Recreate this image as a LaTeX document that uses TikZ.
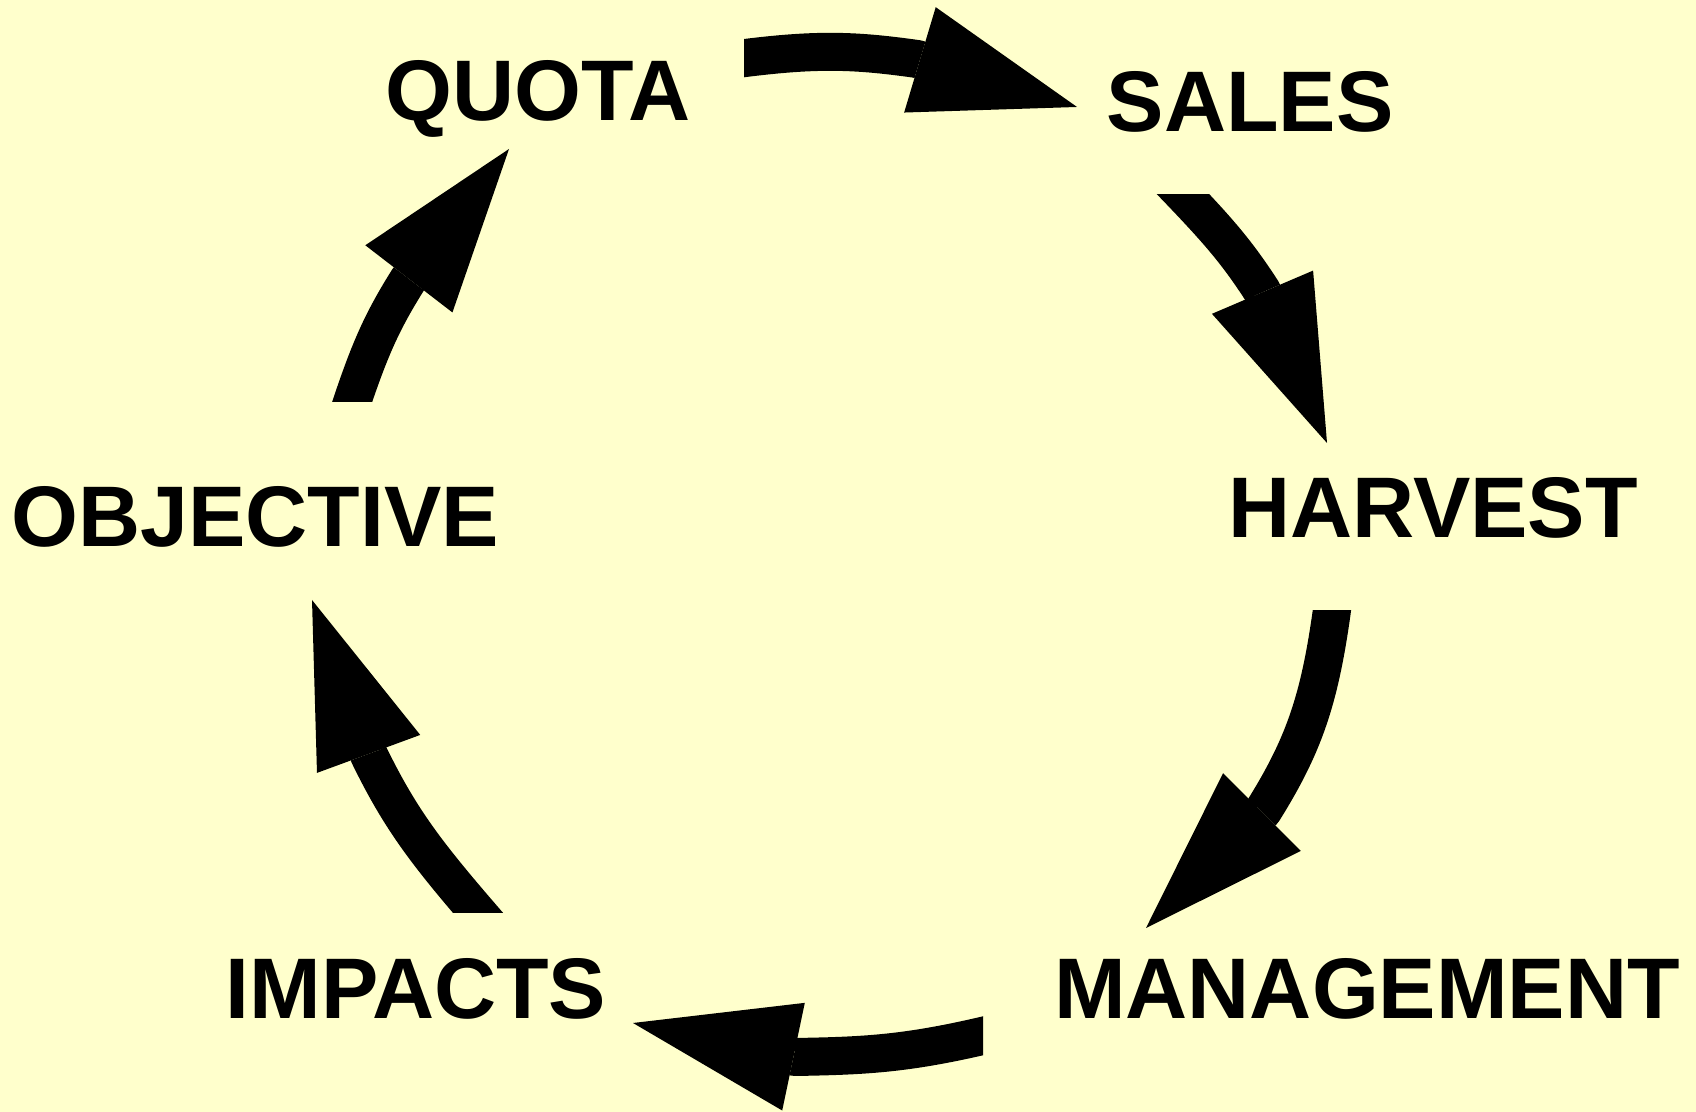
\documentclass[tikz,border=0pt]{standalone}
\usepackage{fontspec}
\setmainfont{Liberation Sans}
\usepackage{xcolor}
\usetikzlibrary{arrows.meta}
\definecolor{paper}{HTML}{FFFFCC}
\tikzset{
  word/.style={font=\bfseries\fontsize{43}{43}\selectfont, anchor=base, inner sep=0pt},
  loopflow/.style={draw=black, line width=19pt, line join=round, shorten <=-12pt,
    -{Triangle[length=82pt,width=55pt,line width=0pt]}}
}
\begin{document}
\begin{tikzpicture}[x=0.5pt,y=0.5pt]
  \fill[paper, use as bounding box] (0,0) rectangle (1696,1112);

  \node[word] (quota) at (538,991) {QUOTA};
  \node[word] (sales) at (1250,980) {SALES};
  \node[word] (harvest) at (1433,574) {HARVEST};
  \node[word] (management) at (1367,93) {MANAGEMENT};
  \node[word] (impacts) at (416,93) {IMPACTS};
  \node[word] (objective) at (255,565) {OBJECTIVE};

  \coordinate (quota-out) at (744,1054);
  \coordinate (sales-back) at (917,1053);
  \coordinate (sales-in) at (1077,1005);

  \coordinate (sales-out) at (1184,917);
  \coordinate (harvest-back) at (1262,821);
  \coordinate (harvest-in) at (1327,669);

  \coordinate (harvest-out) at (1332,501);
  \coordinate (management-back) at (1263,301);
  \coordinate (management-in) at (1146,184);

  \coordinate (management-out) at (983,76);
  \coordinate (impacts-back) at (795,55);
  \coordinate (impacts-in) at (633,89);

  \coordinate (impacts-out) at (478,199);
  \coordinate (objective-back) at (369,357);
  \coordinate (objective-in) at (312,512);

  \coordinate (objective-out) at (352,710);
  \coordinate (quota-back) at (408,832);
  \coordinate (quota-in) at (509,963);

  % each shaft is cut square to the page, as in the slide
  \begin{scope}
    \clip (744,0) rectangle (1696,1112);
    \draw[loopflow] (quota-out) to[out=8,in=172] (sales-back) -- (sales-in);
  \end{scope}
  \begin{scope}
    \clip (0,0) rectangle (1696,917);
    \draw[loopflow] (sales-out) to[out=-46,in=123] (harvest-back) -- (harvest-in);
  \end{scope}
  \begin{scope}
    \clip (0,0) rectangle (1696,501);
    \draw[loopflow] (harvest-out) to[out=-97,in=58] (management-back) -- (management-in);
  \end{scope}
  \begin{scope}
    \clip (0,0) rectangle (983,1112);
    \draw[loopflow] (management-out) to[out=194,in=1] (impacts-back) -- (impacts-in);
  \end{scope}
  \begin{scope}
    \clip (0,199) rectangle (1696,1112);
    \draw[loopflow] (impacts-out) to[out=131,in=-64] (objective-back) -- (objective-in);
  \end{scope}
  \begin{scope}
    \clip (0,710) rectangle (1696,1112);
    \draw[loopflow] (objective-out) to[out=72,in=-122] (quota-back) -- (quota-in);
  \end{scope}
\end{tikzpicture}
\end{document}
